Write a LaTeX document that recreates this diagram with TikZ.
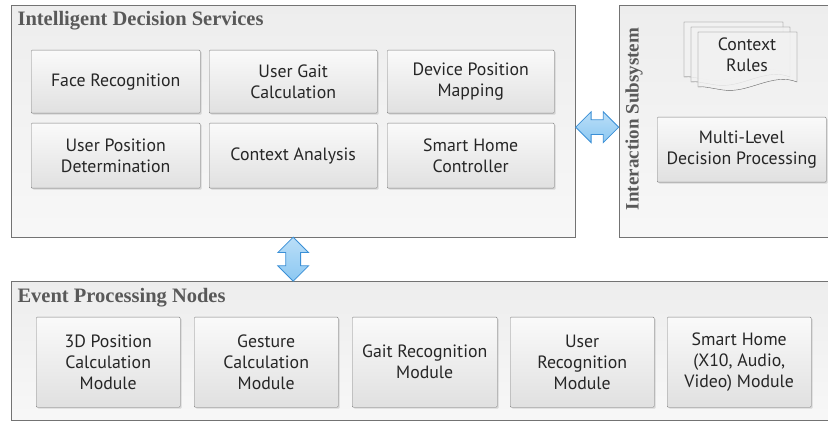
\documentclass[tikz,border=0pt]{standalone}
\usepackage{fontspec}
\setmainfont{Liberation Serif}
\newfontfamily\boxfont{PT Sans}
\usetikzlibrary{shapes.arrows,shadows,calc,positioning}

\definecolor{linkfill}{HTML}{8CC8F2}
\definecolor{linkdraw}{HTML}{3A8FD6}

\tikzset{
  panel/.style={draw=black!55, top color=black!7, bottom color=black!3, anchor=north west, inner sep=0pt},
  module/.style={draw=black!50, rounded corners=1pt, top color=black!2, bottom color=black!12,
    drop shadow={shadow xshift=1.5pt, shadow yshift=-1.5pt, opacity=0.25},
    align=center, text=black!85, inner sep=0pt, anchor=north west,
    font=\boxfont\fontsize{17.8}{21}\selectfont},
  paneltitle/.style={font=\bfseries\fontsize{20.5}{24}\selectfont, text=black!65},
  link/.style={double arrow, draw=linkdraw, thick, top color=linkfill!60, bottom color=linkfill,
    inner xsep=0pt, inner ysep=7pt, double arrow head extend=8pt},
  page/.style={draw=black!60, fill=black!5, fill opacity=0.85}
}

\begin{document}
\begin{tikzpicture}[x=1pt,y=-1pt]
\useasboundingbox (0,0) rectangle (828,422);
\clip (0,0) rectangle (828,422);
\fill[white] (0,0) rectangle (828,422);

% containers
\node[panel, minimum width=564pt, minimum height=232pt] (ids) at (11,5) {};
\node[panel, minimum width=230pt, minimum height=232pt] (inter) at (619,5) {};
\node[panel, minimum width=840pt, minimum height=139pt] (eps) at (11,281) {};

\node[paneltitle, anchor=west] (idstitle) at (14,21) {Intelligent Decision Services};
\node[paneltitle, anchor=west] (epstitle) at (14,298) {Event Processing Nodes};
\node[paneltitle, rotate=90, font=\bfseries\fontsize{19}{22}\selectfont] (intertitle) at (634,119) {Interaction Subsystem};

% decision services
\node[module, minimum width=169pt, minimum height=63pt] (face) at (31,50) {Face Recognition};
\node[module, minimum width=168pt, minimum height=63pt] (gait) at (209,50) {User Gait\\Calculation};
\node[module, minimum width=167pt, minimum height=63pt] (devpos) at (387,50) {Device Position\\Mapping};
\node[module, minimum width=169pt, minimum height=65pt] (userpos) at (31,123) {User Position\\Determination};
\node[module, minimum width=168pt, minimum height=65pt] (context) at (209,123) {Context Analysis};
\node[module, minimum width=167pt, minimum height=65pt] (controller) at (387,123) {Smart Home\\Controller};

% interaction subsystem
\foreach \dx/\dy in {0/0,7/5,14/10}{
  \draw[page, shift={(684+\dx,22+\dy)}] (0,0) -- (99,0) -- (99,50)
    .. controls (75,40) and (50,62) .. (25,58) .. controls (12,56) and (5,54) .. (0,55) -- cycle;
}
\node[align=center, text=black!85, font=\boxfont\fontsize{17.8}{21}\selectfont] (rules) at (747,55) {Context\\Rules};
\node[module, minimum width=169pt, minimum height=65pt] (multilevel) at (657,117) {Multi-Level\\Decision Processing};

% event processing nodes
\node[module, minimum width=144pt, minimum height=90pt] (pos3d) at (36,317) {3D Position\\Calculation\\Module};
\node[module, minimum width=144pt, minimum height=90pt] (gesture) at (194,317) {Gesture\\Calculation\\Module};
\node[module, minimum width=145pt, minimum height=90pt] (gaitrec) at (352,317) {Gait Recognition\\Module};
\node[module, minimum width=144pt, minimum height=90pt] (userrec) at (510,317) {User\\Recognition\\Module};
\node[module, minimum width=144pt, minimum height=90pt] (smarthome) at (667,317) {Smart Home\\(X10, Audio,\\Video) Module};

% links
\node[link, minimum height=43pt] (hlink) at ($(ids.east)!0.5!(inter.west)+(0,6)$) {};
\node[link, minimum height=44pt, rotate=90] (vlink) at ($(ids.south)!0.5!(ids.south |- eps.north)$) {};
\end{tikzpicture}
\end{document}
